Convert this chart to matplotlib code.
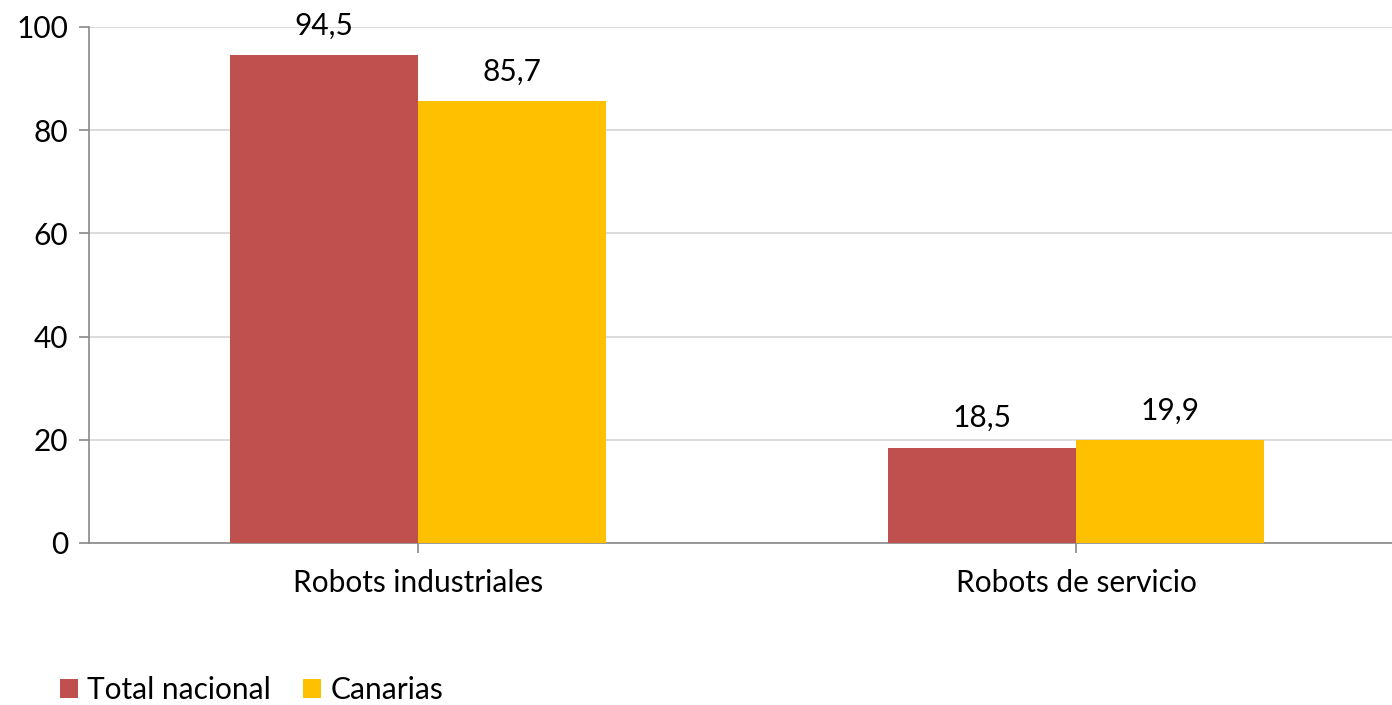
import matplotlib
matplotlib.use("Agg")
import matplotlib.pyplot as plt
import numpy as np

categories = ["Robots industriales", "Robots de servicio"]
series_names = ["Total nacional", "Canarias"]
total_nacional = [94.5, 18.5]
canarias = [85.7, 19.9]
y_ticks = [0, 20, 40, 60, 80, 100]

colors = ["#C0504D", "#FFC000"]

plt.rcParams["font.family"] = ["Lato", "DejaVu Sans"]
fs = 21.5

fig = plt.figure(figsize=(13.92, 7.05), dpi=100)
# axes run past the right edge like the original
ax = fig.add_axes([89 / 1392, 1 - 543 / 705, (1405 - 89) / 1392, (543 - 27) / 705])

x = np.arange(len(categories))
w = 188 / 658
bars = []
for i, (vals, name) in enumerate(zip([total_nacional, canarias], series_names)):
    b = ax.bar(x + (i - 0.5) * w, vals, width=w, color=colors[i], label=name, zorder=3)
    bars.append(b)
    for rect, v in zip(b, vals):
        ax.annotate(f"{v:.1f}".replace(".", ","),
                    (rect.get_x() + rect.get_width() / 2, rect.get_height()),
                    xytext=(0, 11), textcoords="offset points",
                    ha="center", va="bottom", fontsize=fs)

ax.set_xlim(-0.5, 1.5)
ax.set_ylim(0, 100)
ax.set_yticks(y_ticks)
ax.set_xticks(x)
ax.set_xticklabels(categories)
ax.tick_params(axis="both", labelsize=fs, color="#898989", length=7, width=1.2)
ax.tick_params(axis="x", pad=12)
ax.tick_params(axis="y", pad=8)
ax.yaxis.grid(True, color="#D9D9D9", linewidth=1.3, zorder=0)
for s in ["top", "right"]:
    ax.spines[s].set_visible(False)
for s in ["left", "bottom"]:
    ax.spines[s].set_color("#898989")
    ax.spines[s].set_linewidth(1.2)

fig.legend(handles=bars, labels=series_names, loc="lower left",
           bbox_to_anchor=(60 / 1392, 0.002), ncol=2, frameon=False,
           fontsize=fs, handlelength=0.6, handleheight=0.6,
           handletextpad=0.3, columnspacing=1.1,
           borderpad=0, borderaxespad=0)

fig.savefig("out.png", dpi=100)
